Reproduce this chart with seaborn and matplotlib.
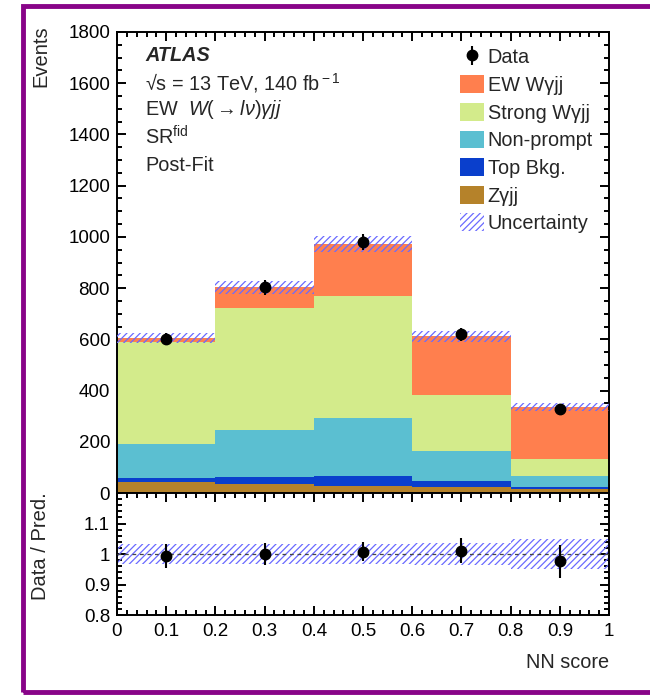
import numpy as np
import pandas as pd
import matplotlib
matplotlib.use("Agg")
import matplotlib.pyplot as plt
import seaborn as sns
from matplotlib.patches import Patch, Rectangle
from matplotlib.ticker import MultipleLocator, FixedLocator, FixedFormatter

# ---------------- data ----------------
bin_edges = [0.0, 0.2, 0.4, 0.6, 0.8, 1.0]
ew_wgjj = [14, 79, 202, 230, 204]
strong_wgjj = [401, 478, 476, 218, 64]
non_prompt = [133, 182, 226, 118, 46]
top_bkg = [13, 30, 39, 22, 6]
z_gjj = [44, 34, 29, 25, 16]
data_vals = [601, 803, 980, 620, 328]
data_err = [24.5, 28.3, 31.3, 24.9, 18.1]
rel_unc = [0.033, 0.033, 0.032, 0.035, 0.050]

process_labels = ["EW Wγjj", "Strong Wγjj", "Non-prompt", "Top Bkg.", "Zγjj"]
process_colors = ["#ff7f4e", "#d3eb8b", "#5bbfd1", "#0a3fcc", "#b5822a"]
x_tick_labels = ["0", "0.1", "0.2", "0.3", "0.4", "0.5", "0.6", "0.7", "0.8", "0.9", "1"]
main_y_ticks = [0, 200, 400, 600, 800, 1000, 1200, 1400, 1600, 1800]
ratio_y_ticks = [0.8, 0.9, 1.0, 1.1]
ratio_y_labels = ["0.8", "0.9", "1", "1.1"]

# ---------------- style ----------------
sns.set_theme(style="ticks")
plt.rcParams["font.family"] = ["Liberation Sans", "DejaVu Sans"]
plt.rcParams["mathtext.fontset"] = "custom"
plt.rcParams["mathtext.rm"] = "Liberation Sans"
plt.rcParams["mathtext.it"] = "Liberation Sans:italic"
plt.rcParams["mathtext.bf"] = "Liberation Sans:bold"
plt.rcParams["hatch.linewidth"] = 0.9
for k in ("xtick", "ytick"):
    plt.rcParams[f"{k}.direction"] = "in"
    plt.rcParams[f"{k}.minor.visible"] = True
    plt.rcParams[f"{k}.major.size"] = 6.5
    plt.rcParams[f"{k}.minor.size"] = 3.6
    plt.rcParams[f"{k}.major.width"] = 1.4
    plt.rcParams[f"{k}.minor.width"] = 1.4
    plt.rcParams[f"{k}.color"] = "black"
plt.rcParams["xtick.top"] = True
plt.rcParams["ytick.right"] = True

edges = np.array(bin_edges)
centers = 0.5 * (edges[:-1] + edges[1:])
components = [ew_wgjj, strong_wgjj, non_prompt, top_bkg, z_gjj]
total = np.sum(np.array(components, dtype=float), axis=0)
data = np.array(data_vals, dtype=float)
derr = np.array(data_err)
unc = total * np.array(rel_unc)

df = pd.DataFrame({
    "score": np.tile(centers, len(process_labels)),
    "events": np.concatenate([np.array(c, dtype=float) for c in components]),
    "process": np.repeat(process_labels, len(centers)),
})

fig = plt.figure(figsize=(6.5, 6.95), dpi=100)
ax = fig.add_axes([0.18, 0.2906, 0.757, 0.6634])
rax = fig.add_axes([0.18, 0.1151, 0.757, 0.1755])

# purple frame
fig.patches.append(Rectangle((0.0354, 0.005), 1.2, 0.987, transform=fig.transFigure,
                             fill=False, edgecolor="#880488", linewidth=3.5, zorder=10))

sns.histplot(data=df, x="score", weights="events", hue="process", hue_order=process_labels,
             multiple="stack", bins=list(bin_edges), palette=process_colors, element="bars",
             linewidth=0, alpha=1, legend=False, ax=ax)

# uncertainty band
hatch_col = "#6a6aff"
ax.fill_between(edges, np.append(total - unc, (total - unc)[-1]),
                np.append(total + unc, (total + unc)[-1]), step="post",
                facecolor="none", edgecolor=hatch_col, hatch="/////", linewidth=0, zorder=3)

data_h = ax.errorbar(centers, data, yerr=derr, fmt="o", color="black", markersize=7.5,
                     elinewidth=1.5, capsize=0, zorder=5)

ax.set_xlim(0, 1)
ax.set_ylim(0, 1800)
ax.set_xlabel("")
ax.set_ylabel("Events", fontsize=14.5, loc="top")
ax.yaxis.set_label_coords(-0.136, 1.015)
ax.yaxis.set_major_locator(FixedLocator(main_y_ticks))
ax.yaxis.set_minor_locator(MultipleLocator(50))
ax.xaxis.set_major_locator(MultipleLocator(0.1))
ax.xaxis.set_minor_locator(MultipleLocator(0.02))

rax.set_xlim(0, 1)
rax.set_ylim(0.8, 1.2)
rax.yaxis.set_major_locator(FixedLocator(ratio_y_ticks))
rax.yaxis.set_major_formatter(FixedFormatter(ratio_y_labels))
rax.yaxis.set_minor_locator(MultipleLocator(0.02))
rax.xaxis.set_major_locator(FixedLocator(np.linspace(0, 1, len(x_tick_labels))))
rax.xaxis.set_major_formatter(FixedFormatter(x_tick_labels))
rax.xaxis.set_minor_locator(MultipleLocator(0.02))

for a in (ax, rax):
    a.tick_params(which="both", direction="in", top=True, right=True, bottom=True, left=True,
                  colors="black", labelsize=13.5, pad=5)
    a.tick_params(which="major", length=6.5, width=1.4)
    a.tick_params(which="minor", length=3.6, width=1.4)
    for s in a.spines.values():
        s.set_color("black")
        s.set_linewidth(1.4)
ax.tick_params(axis="x", which="both", labelbottom=False)
rax.tick_params(axis="x", which="major", pad=6)

# labels in main panel
tx = 0.057
ax.text(tx, 0.950, "ATLAS", transform=ax.transAxes, fontsize=14.3, fontweight="bold",
        style="italic", va="center", ha="left")
ax.text(tx, 0.889, r"√s = 13 TeV, 140 fb$^{\rm -1}$", transform=ax.transAxes,
        fontsize=14.3, va="center", ha="left")
ax.text(tx, 0.831, r"EW  $W(\rightarrow l\nu)\gamma jj$", transform=ax.transAxes,
        fontsize=14.3, va="center", ha="left")
ax.text(tx, 0.772, r"SR$^{\rm fid}$", transform=ax.transAxes, fontsize=14.3,
        va="center", ha="left")
ax.text(tx, 0.711, "Post-Fit", transform=ax.transAxes, fontsize=14.3, va="center", ha="left")

handles = [data_h] + [Patch(facecolor=c, edgecolor="none") for c in process_colors] + \
          [Patch(facecolor="white", edgecolor=hatch_col, hatch="/////", linewidth=0)]
labels = ["Data"] + process_labels + ["Uncertainty"]
ax.legend(handles, labels, loc="upper left", bbox_to_anchor=(0.697, 0.966), frameon=False,
          fontsize=14.3, borderpad=0, borderaxespad=0, labelspacing=0.40, handlelength=1.2,
          handleheight=1.0, handletextpad=0.2)

# ratio panel
rax.fill_between(edges, np.append(1 - np.array(rel_unc), 1 - rel_unc[-1]),
                 np.append(1 + np.array(rel_unc), 1 + rel_unc[-1]), step="post",
                 facecolor="none", edgecolor=hatch_col, hatch="/////", linewidth=0, zorder=2)
rax.axhline(1.0, color="#444444", lw=0.9, ls=(0, (3, 3)), zorder=3)
rax.errorbar(centers, data / total, yerr=derr / total, fmt="o", color="black",
             markersize=7.5, elinewidth=1.5, capsize=0, zorder=5)
rax.set_xlabel("NN score", fontsize=14.3, loc="right", labelpad=9)
rax.set_ylabel("Data / Pred.", fontsize=14.5, loc="top")
rax.yaxis.set_label_coords(-0.136, 1.01)

fig.savefig("out.png", dpi=100, facecolor="white")
